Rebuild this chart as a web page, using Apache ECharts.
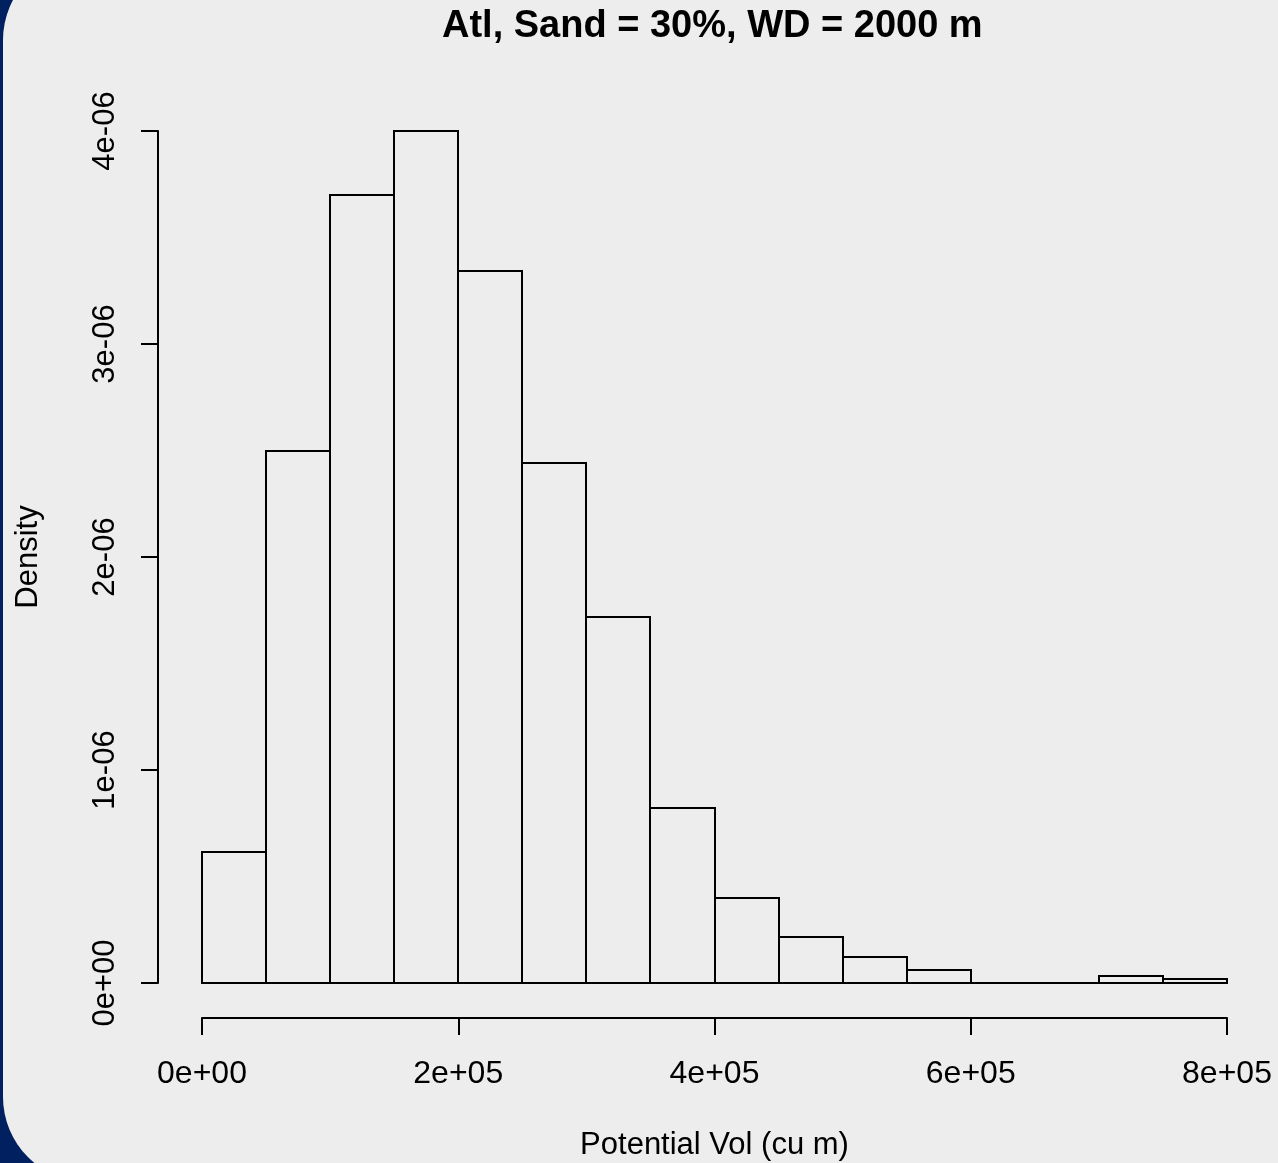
<!DOCTYPE html>
<html>
<head>
<meta charset="utf-8">
<script src="https://cdn.jsdelivr.net/npm/echarts@6/dist/echarts.min.js"></script>
<style>
html,body{margin:0;padding:0;background:#00205f;}
#chart{width:1278px;height:1163px;}
</style>
</head>
<body>
<div id="chart"></div>
<script>
// Histogram bins (cu m) and densities
var binStarts = [0, 50000, 100000, 150000, 200000, 250000, 300000, 350000, 400000, 450000, 500000, 550000, 600000, 650000, 700000, 750000];
var binWidth = 50000;
var densities = [0.615e-6, 2.50e-6, 3.70e-6, 4.00e-6, 3.345e-6, 2.44e-6, 1.72e-6, 0.82e-6, 0.40e-6, 0.215e-6, 0.12e-6, 0.062e-6, 0, 0, 0.034e-6, 0.018e-6];
var xTickLabels = ['0e+00', '2e+05', '4e+05', '6e+05', '8e+05'];
var yTickLabels = ['0e+00', '1e-06', '2e-06', '3e-06', '4e-06'];
var titleText = 'Atl, Sand = 30%, WD = 2000 m';
var xName = 'Potential Vol (cu m)';
var yName = 'Density';

var data = binStarts.map(function (s, i) { return [s, s + binWidth, densities[i]]; });

var FONT = 'Liberation Sans, Arial, sans-serif';
var chart = echarts.init(document.getElementById('chart'));
chart.setOption({
  backgroundColor: '#00205f',
  animation: false,
  graphic: [{
    type: 'rect', z: -100, silent: true,
    shape: { x: 3, y: -45, width: 1400, height: 1227, r: 85 },
    style: { fill: '#ededed' }
  }],
  title: {
    text: titleText, left: 437, top: 3,
    textStyle: { fontFamily: FONT, fontSize: 38, fontWeight: 'bold', color: '#000' }
  },
  grid: { left: 202, right: 51, top: 131, bottom: 180, containLabel: false, outerBoundsMode: 'none' },
  xAxis: {
    type: 'value', min: 0, max: 800000, interval: 200000, offset: 35,
    name: xName, nameLocation: 'middle', nameGap: 112,
    nameTextStyle: { fontFamily: FONT, fontSize: 31, color: '#000' },
    axisLine: { show: true, onZero: false, lineStyle: { color: '#000', width: 2 } },
    axisTick: { show: true, length: 17, lineStyle: { color: '#000', width: 2 } },
    axisLabel: {
      margin: 40, fontFamily: FONT, fontSize: 32, color: '#000',
      formatter: function (v) { return xTickLabels[Math.round(v / 200000)]; }
    },
    splitLine: { show: false }
  },
  yAxis: {
    type: 'value', min: 0, max: 4e-6, interval: 1e-6, offset: 44,
    name: yName, nameLocation: 'middle', nameGap: 114, nameRotate: 90,
    nameTextStyle: { fontFamily: FONT, fontSize: 31, color: '#000' },
    axisLine: { show: true, onZero: false, lineStyle: { color: '#000', width: 2 } },
    axisTick: { show: true, length: 17, lineStyle: { color: '#000', width: 2 } },
    axisLabel: {
      rotate: 90, margin: 37, fontFamily: FONT, fontSize: 31, color: '#000',
      formatter: function (v) { return yTickLabels[Math.round(v / 1e-6)]; }
    },
    splitLine: { show: false }
  },
  series: [{
    type: 'custom',
    data: data,
    encode: { x: [0, 1], y: 2 },
    renderItem: function (params, api) {
      var p0 = api.coord([api.value(0), api.value(2)]);
      var p1 = api.coord([api.value(1), 0]);
      return {
        type: 'rect',
        shape: { x: Math.round(p0[0]), y: Math.round(p0[1]), width: Math.round(p1[0]) - Math.round(p0[0]), height: Math.round(p1[1]) - Math.round(p0[1]) },
        style: { fill: 'none', stroke: '#000', lineWidth: 2 }
      };
    }
  }]
});
</script>
</body>
</html>
